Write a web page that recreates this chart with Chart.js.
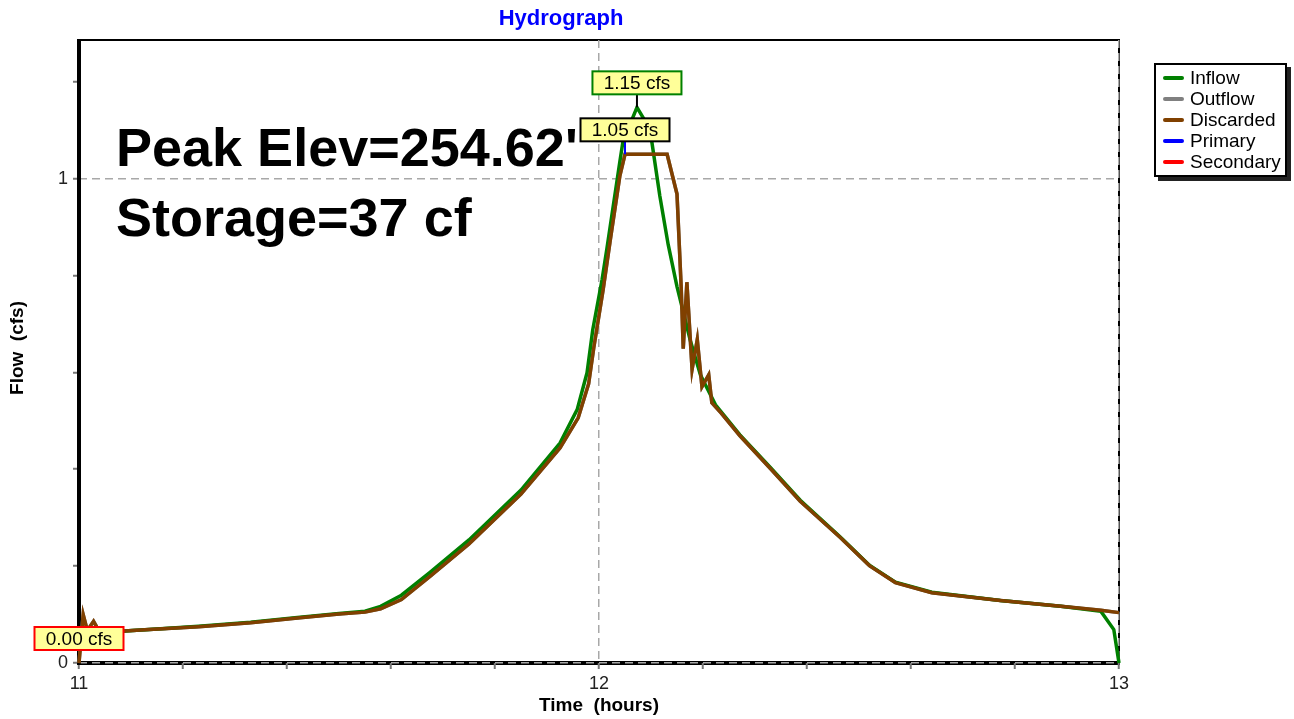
<!DOCTYPE html>
<html>
<head>
<meta charset="utf-8">
<title>Hydrograph</title>
<script src="https://cdn.jsdelivr.net/npm/chart.js@4.4.0/dist/chart.umd.min.js"></script>
<style>
  body { margin: 0; background: #fff; font-family: "Liberation Sans", Arial, sans-serif; }
  #wrap { position: relative; width: 1294px; height: 719px; }
  #legend {
    position: absolute; left: 1154px; top: 63px; width: 129px; height: 108px;
    border: 2px solid #000; background: #fff; box-shadow: 4px 4px 0 #222;
    padding-top: 2px;
  }
  #legend div { height: 21px; line-height: 21px; font-size: 19px; color: #000; position: relative; padding-left: 34px; }
  #legend span { position: absolute; left: 7px; top: 9px; width: 21px; height: 4px; border-radius: 2px; }
</style>
</head>
<body>
<div id="wrap">
  <canvas id="chartHydro"></canvas>
  <div id="legend"></div>
</div>
<script>
/* ---------- DATA (time in hours, flow in cfs) ---------- */
const inflowTime = [11.00, 11.04, 11.135, 11.23, 11.33, 11.42, 11.50, 11.55, 11.58, 11.62, 11.675, 11.75, 11.85,
  11.925, 11.958, 11.977, 11.988, 12.006, 12.015, 12.04, 12.046, 12.073, 12.098, 12.117, 12.133, 12.15, 12.175,
  12.195, 12.224, 12.271, 12.33, 12.387, 12.464, 12.52, 12.57, 12.64, 12.772, 12.888, 12.965, 12.99, 13.00];
const inflowFlow = [0.060, 0.063, 0.069, 0.076, 0.084, 0.094, 0.102, 0.107, 0.117, 0.140, 0.187, 0.254, 0.357,
  0.454, 0.523, 0.599, 0.688, 0.792, 0.854, 1.034, 1.076, 1.147, 1.102, 0.964, 0.864, 0.777, 0.668,
  0.595, 0.533, 0.471, 0.403, 0.336, 0.260, 0.202, 0.167, 0.146, 0.129, 0.117, 0.107, 0.069, 0.0];

const discardedTime = [11.00, 11.008, 11.016, 11.028, 11.04, 11.135, 11.23, 11.33, 11.42, 11.50, 11.55, 11.58,
  11.62, 11.675, 11.75, 11.85, 11.925, 11.96, 11.98, 11.99, 12.008, 12.021, 12.04, 12.05, 12.131, 12.15, 12.158,
  12.162, 12.169, 12.179, 12.189, 12.198, 12.211, 12.217, 12.235, 12.271, 12.33, 12.387, 12.464, 12.52, 12.57,
  12.64, 12.772, 12.888, 12.965, 13.00];
const discardedFlow = [0.0, 0.10, 0.067, 0.086, 0.063, 0.069, 0.075, 0.083, 0.093, 0.101, 0.105, 0.112,
  0.131, 0.179, 0.246, 0.349, 0.444, 0.506, 0.576, 0.651, 0.771, 0.868, 1.005, 1.05, 1.05, 0.968, 0.777,
  0.649, 0.786, 0.606, 0.668, 0.570, 0.595, 0.537, 0.516, 0.469, 0.401, 0.334, 0.259, 0.201, 0.166,
  0.145, 0.129, 0.117, 0.109, 0.104];

const seriesNames  = ['Inflow', 'Outflow', 'Discarded', 'Primary', 'Secondary'];
const seriesColors = ['#008000', '#808080', '#804000', '#0000ff', '#ff0000'];

const xTicks = [11, 11.2, 11.4, 11.6, 11.8, 12, 12.2, 12.4, 12.6, 12.8, 13];
const yTicks = [0, 0.2, 0.4, 0.6, 0.8, 1, 1.2];

// peak labels: time, value, text, border colour, leader colour
const peakTime   = [12.073, 12.05, 11.0];
const peakFlow   = [1.147, 1.05, 0.0];
const peakText   = ['1.15 cfs', '1.05 cfs', '0.00 cfs'];
const peakBorder = ['#008000', '#000000', '#ff0000'];
const peakLeader = ['#000000', '#0000ff', null];

const FONT = '"Liberation Sans", Arial, sans-serif';

function toPoints(ts, vs) { return ts.map((t, i) => ({ x: t, y: vs[i] })); }

/* ---------- LEGEND (html) ---------- */
document.getElementById('legend').innerHTML = seriesNames
  .map((n, i) => `<div><span style="background:${seriesColors[i]}"></span>${n}</div>`).join('');

/* ---------- PLUGIN: frame, titles, notes, peak labels ---------- */
const overlay = {
  id: 'overlay',
  beforeDraw(chart) {
    const { ctx, chartArea: a } = chart;
    ctx.save();
    ctx.strokeStyle = '#000';
    ctx.lineWidth = 2;
    ctx.strokeRect(a.left, a.top, a.right - a.left, a.bottom - a.top);
    ctx.lineWidth = 4;
    ctx.beginPath();
    ctx.moveTo(a.left, a.bottom);
    ctx.lineTo(a.right + 1, a.bottom);
    ctx.stroke();
    ctx.restore();
  },
  beforeDatasetsDraw(chart) {
    // thick left border sits over the x=11 grid line
    const { ctx, chartArea: a } = chart;
    ctx.save();
    ctx.strokeStyle = '#000';
    ctx.lineWidth = 4;
    ctx.beginPath();
    ctx.moveTo(a.left, a.top - 1);
    ctx.lineTo(a.left, a.bottom + 2);
    ctx.stroke();
    ctx.restore();
  },
  afterDatasetsDraw(chart) {
    const { ctx, scales: { x, y } } = chart;
    ctx.save();
    // big notes
    ctx.fillStyle = '#000';
    ctx.font = `bold 54px ${FONT}`;
    ctx.textAlign = 'left';
    ctx.textBaseline = 'alphabetic';
    ctx.fillText("Peak Elev=254.62'", 116, 166);
    ctx.fillText('Storage=37 cf', 116, 236);

    // peak labels
    ctx.font = `19px ${FONT}`;
    ctx.textAlign = 'center';
    ctx.textBaseline = 'middle';
    peakText.forEach((txt, i) => {
      const px = x.getPixelForValue(peakTime[i]);
      const py = y.getPixelForValue(peakFlow[i]);
      const w = 89, h = 23;
      const bx = px - w / 2, by = py - 13 - h;
      ctx.lineWidth = 2;
      if (peakLeader[i]) {
        ctx.strokeStyle = peakLeader[i];
        ctx.beginPath();
        ctx.moveTo(px, by + h);
        ctx.lineTo(px, py);
        ctx.stroke();
      }
      ctx.fillStyle = '#ffff99';
      ctx.fillRect(bx, by, w, h);
      ctx.strokeStyle = peakBorder[i];
      ctx.strokeRect(bx, by, w, h);
      ctx.fillStyle = '#000';
      ctx.fillText(txt, px, by + h / 2 + 1);
    });
    ctx.restore();
  },
  afterDraw(chart) {
    const { ctx } = chart;
    ctx.save();
    ctx.textAlign = 'center';
    ctx.textBaseline = 'middle';
    ctx.fillStyle = '#0000ff';
    ctx.font = `bold 22px ${FONT}`;
    ctx.fillText('Hydrograph', 561, 19);
    ctx.fillStyle = '#000';
    ctx.font = `bold 19px ${FONT}`;
    ctx.fillText('Time  (hours)', 599, 706);
    ctx.translate(18, 348);
    ctx.rotate(-Math.PI / 2);
    ctx.fillText('Flow  (cfs)', 0, 0);
    ctx.restore();
  }
};

/* ---------- CHART ---------- */
const lineStyle = { borderWidth: 3.5, pointRadius: 0, tension: 0, fill: false, clip: 4 };

const gridOpts = {
  color: c => Number.isInteger(c.tick && c.tick.value) ? '#a8a8a8' : 'rgba(0,0,0,0)',
  lineWidth: 1.5, tickColor: '#777', tickLength: 6, tickWidth: 2
};

new Chart(document.getElementById('chartHydro'), {
  type: 'line',
  data: {
    datasets: [
      { label: seriesNames[0], data: toPoints(inflowTime, inflowFlow), borderColor: seriesColors[0], order: 2, ...lineStyle },
      { label: seriesNames[1], data: toPoints(discardedTime, discardedFlow), borderColor: seriesColors[1], order: 3, ...lineStyle },
      { label: seriesNames[2], data: toPoints(discardedTime, discardedFlow), borderColor: seriesColors[2], order: 1, ...lineStyle }
    ]
  },
  options: {
    responsive: true,
    maintainAspectRatio: false,
    animation: false,
    layout: { padding: { left: 0, top: 40, right: 175, bottom: 0 } },
    plugins: { legend: { display: false }, title: { display: false }, tooltip: { enabled: false } },
    scales: {
      x: {
        type: 'linear', min: 11, max: 13,
        afterBuildTicks: s => { s.ticks = xTicks.map(v => ({ value: v })); },
        afterFit: s => { s.height = 56; },
        ticks: { autoSkip: false, maxRotation: 0, padding: 4, color: '#222', font: { family: FONT, size: 18 },
                 callback: v => Number.isInteger(v) ? v : '' },
        grid: gridOpts,
        border: { display: false, dash: [8, 5] }
      },
      y: {
        type: 'linear', min: 0, max: 1.286,
        afterBuildTicks: s => { s.ticks = yTicks.map(v => ({ value: v })); },
        afterFit: s => { s.width = 79; },
        ticks: { autoSkip: false, padding: 5, color: '#222', font: { family: FONT, size: 18 },
                 callback: v => Number.isInteger(v) ? v : '' },
        grid: gridOpts,
        border: { display: false, dash: [8, 5] }
      }
    }
  },
  plugins: [overlay]
});
</script>
</body>
</html>
